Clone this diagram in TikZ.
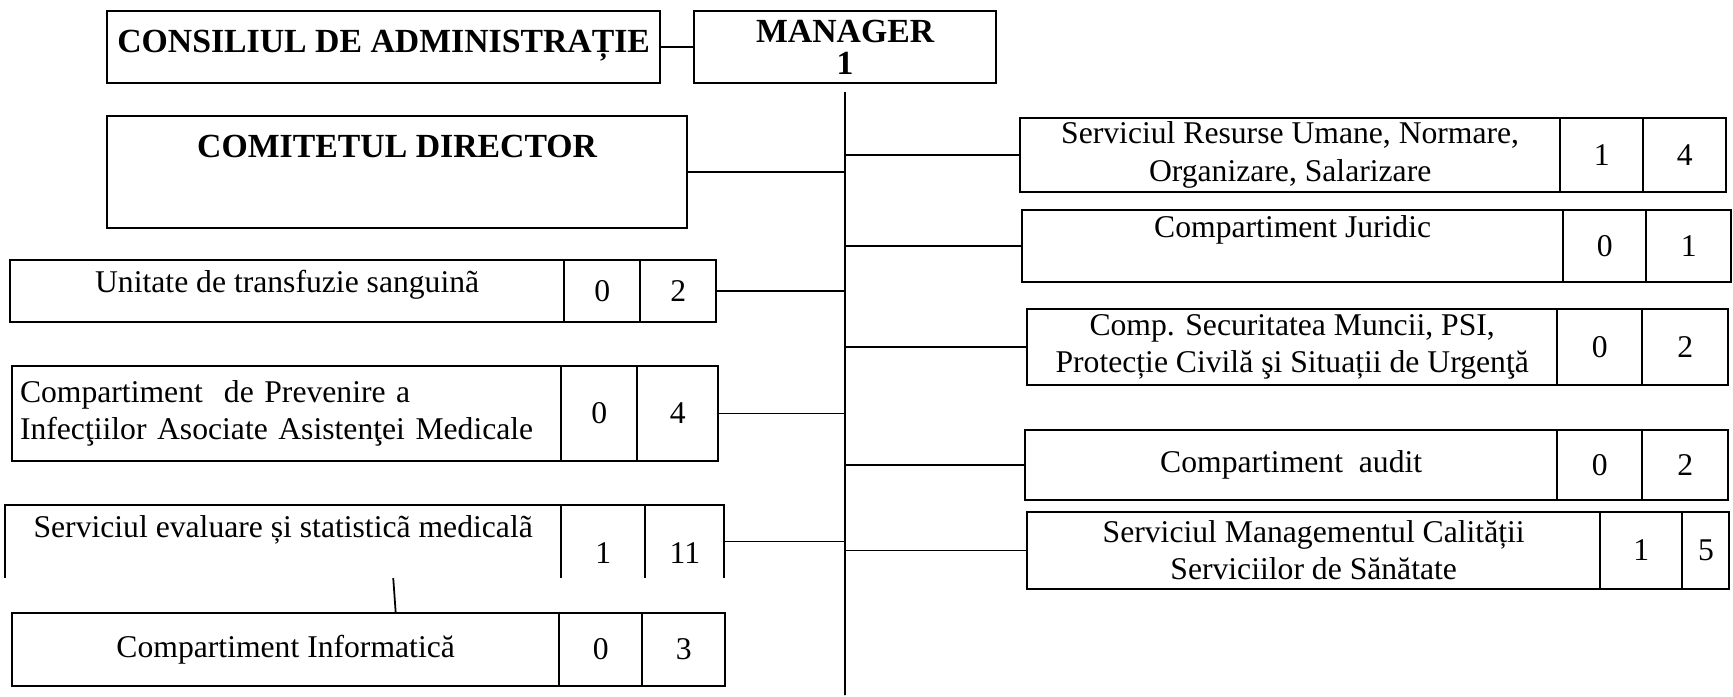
\documentclass[tikz,border=0pt]{standalone}
\usepackage{fontspec}
\setmainfont{Liberation Serif}
\usetikzlibrary{positioning}

\begin{document}
\begin{tikzpicture}[x=0.01cm,y=-0.01cm,line width=0.6pt,
		unit node/.style={draw,inner sep=0pt,outer sep=0pt,font=\fontsize{9}{10.6}\selectfont},
		head node/.style={unit node,font=\bfseries\fontsize{9.6}{11}\selectfont},
		num node/.style={unit node,minimum width=0.83cm},
		open node/.style={unit node,draw=none},
		link/.style={line width=0.5pt}]
		\useasboundingbox (0,0) rectangle (1733,697);

		% top
		\node[head node,anchor=north west,minimum width=5.53cm,text height=0.41cm,text depth=0.31cm] (cda) at (107,11) {CONSILIUL DE ADMINISTRAȚIE};
		\node[head node,anchor=north west,minimum width=3.02cm,minimum height=0.72cm,align=center,font=\bfseries\fontsize{9.6}{9.2}\selectfont] (mgr) at (694,11) {MANAGER\\1};
		\node[head node,anchor=north west,minimum width=5.80cm,text height=0.41cm,text depth=0.71cm] (cd) at (107,116) {COMITETUL DIRECTOR};

		% left column
		\node[unit node,anchor=north west,minimum width=5.54cm,text height=0.32cm,text depth=0.30cm] (uts) at (10,260) {Unitate de transfuzie sanguinã};
		\node[num node,minimum width=0.76cm,minimum height=0.62cm,right=0pt of uts] (uts1) {0};
		\node[num node,minimum width=0.76cm,minimum height=0.62cm,right=0pt of uts1] (uts2) {2};

		\node[unit node,anchor=north west,minimum width=5.49cm,minimum height=0.95cm,text width=5.33cm,inner xsep=0.08cm,align=left] (cpia) at (12,366) {Compartiment\ \ de Prevenire a\\Infecţiilor Asociate Asistenţei Medicale};
		\node[num node,minimum width=0.76cm,minimum height=0.95cm,right=0pt of cpia] (cpia1) {0};
		\node[num node,minimum width=0.81cm,minimum height=0.95cm,right=0pt of cpia1] (cpia2) {4};

		\node[open node,anchor=north west,minimum width=5.56cm,text height=0.32cm,text depth=0.41cm] (sesm) at (5,505) {Serviciul evaluare și statisticã medicalã};
		\node[open node,minimum width=0.84cm,text height=0.58cm,text depth=0.15cm,right=0pt of sesm] (sesm1) {1};
		\node[open node,minimum width=0.79cm,text height=0.58cm,text depth=0.15cm,right=0pt of sesm1] (sesm2) {11};
		\draw (sesm.south west) |- (sesm2.north east) -- (sesm2.south east);
		\draw (sesm1.north west) -- (sesm1.south west) (sesm2.north west) -- (sesm2.south west);

		\node[unit node,anchor=north west,minimum width=5.47cm,minimum height=0.73cm] (ci) at (12,613) {Compartiment Informatică};
		\node[num node,minimum height=0.73cm,right=0pt of ci] (ci1) {0};
		\node[num node,minimum height=0.73cm,right=0pt of ci1] (ci2) {3};

		% right column
		\node[unit node,anchor=north west,minimum width=5.40cm,minimum height=0.74cm,align=center] (srun) at (1020,118) {Serviciul Resurse Umane, Normare,\\Organizare, Salarizare};
		\node[num node,minimum height=0.74cm,right=0pt of srun] (srun1) {1};
		\node[num node,minimum height=0.74cm,right=0pt of srun1] (srun2) {4};

		\node[unit node,anchor=north west,minimum width=5.41cm,text height=0.27cm,text depth=0.45cm] (cj) at (1022,210) {Compartiment Juridic};
		\node[num node,minimum height=0.72cm,right=0pt of cj] (cj1) {0};
		\node[num node,minimum width=0.85cm,minimum height=0.72cm,right=0pt of cj1] (cj2) {1};

		\node[unit node,anchor=north west,minimum width=5.30cm,minimum height=0.76cm,align=center] (csm) at (1027,309) {Comp. Securitatea Muncii, PSI,\\Protecție Civilă şi Situații de Urgenţă};
		\node[num node,minimum width=0.85cm,minimum height=0.76cm,right=0pt of csm] (csm1) {0};
		\node[num node,minimum width=0.86cm,minimum height=0.76cm,right=0pt of csm1] (csm2) {2};

		\node[unit node,anchor=north west,minimum width=5.32cm,minimum height=0.70cm] (ca) at (1025,430) {Compartiment\ \ audit};
		\node[num node,minimum width=0.85cm,minimum height=0.70cm,right=0pt of ca] (ca1) {0};
		\node[num node,minimum width=0.86cm,minimum height=0.70cm,right=0pt of ca1] (ca2) {2};

		\node[unit node,anchor=north west,minimum width=5.73cm,minimum height=0.77cm,align=center] (smc) at (1027,512) {Serviciul Managementul Calității\\Serviciilor de Sănătate};
		\node[num node,minimum width=0.82cm,minimum height=0.77cm,right=0pt of smc] (smc1) {1};
		\node[num node,minimum width=0.47cm,minimum height=0.77cm,right=0pt of smc1] (smc2) {5};

		% links
		\coordinate (spine end) at (845,695);
		\path[link]
		(cda.east) edge (mgr.west)
		(mgr.south) edge[shorten <=0.09cm] (spine end)
		(cd.east) edge (cd.east -| spine end)
		(uts2.east) edge (uts2.east -| spine end)
		(cpia2.east) edge (cpia2.east -| spine end)
		(sesm2.east) edge (sesm2.east -| spine end)
		(srun.west -| spine end) edge (srun.west)
		(cj.west -| spine end) edge (cj.west)
		(csm.west -| spine end) edge (csm.west)
		(ca.west -| spine end) edge (ca.west)
		(smc.west -| spine end) edge (smc.west)
		([xshift=1.1cm]sesm.south) edge ([xshift=1.1cm]ci.north);
\end{tikzpicture}
\end{document}
